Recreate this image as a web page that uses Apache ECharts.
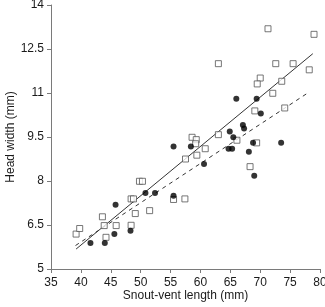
<!DOCTYPE html>
<html>
<head>
<meta charset="utf-8">
<script src="https://cdn.jsdelivr.net/npm/echarts@6/dist/echarts.min.js"></script>
<style>
  html, body { margin: 0; padding: 0; background: #fff; }
  #chart { width: 325px; height: 307px; }
</style>
</head>
<body>
<div id="chart"></div>
<script>
// snout-vent length (mm) / head width (mm)
var squareSvl = [39.2, 39.8, 43.6, 43.9, 44.2, 45.9, 48.4, 48.8, 49.1, 48.4, 49.8, 50.3, 51.5,
                 55.5, 57.4, 57.5, 58.6, 59.3, 59.2, 60.8, 59.4, 63.0, 66.1, 63.0,
                 71.3, 79.0, 72.6, 75.5, 78.2, 70.0, 69.5, 73.6, 72.1, 69.1, 74.1, 69.4, 68.3];
var squareHw  = [6.19, 6.38, 6.78, 6.48, 6.08, 6.48, 7.39, 7.39, 6.89, 6.49, 7.99, 7.99, 6.99,
                 7.37, 7.39, 8.75, 9.49, 9.41, 9.27, 9.10, 8.88, 9.58, 9.39, 12.0,
                 13.19, 13.0, 12.0, 12.0, 11.79, 11.51, 11.31, 11.40, 10.99, 10.39, 10.49, 9.30, 8.49];

var circleSvl = [41.6, 44.0, 45.6, 45.8, 48.3, 50.8, 52.4, 55.5, 55.5, 58.4, 60.6,
                 64.7, 65.3, 64.9, 65.5, 66.0, 69.4, 70.1, 67.1, 67.3, 68.8, 73.5, 68.1, 69.0];
var circleHw  = [5.89, 5.89, 6.19, 7.19, 6.30, 7.59, 7.59, 7.50, 9.18, 9.18, 8.58,
                 9.10, 9.10, 9.69, 9.49, 10.80, 10.80, 10.30, 9.91, 9.79, 9.30, 9.30, 9.00, 8.18];

// fitted lines (end points)
var solidX = [39.2, 78.8];
var solidY = [5.68, 12.34];
var dashX = [39.1, 77.8];
var dashY = [5.80, 10.98];

var xTicks = [35, 40, 45, 50, 55, 60, 65, 70, 75, 80];
var yTicks = [5, 6.5, 8, 9.5, 11, 12.5, 14];

function pairs(xs, ys) {
  return xs.map(function(x, i) { return [x, ys[i]]; });
}

var chart = echarts.init(document.getElementById('chart'));

var axisGray = '#7a7a7a';
var labelStyle = { color: '#1a1a1a', fontSize: 12, fontFamily: 'Liberation Sans, Arial, sans-serif' };

var option = {
  animation: false,
  grid: { left: 51, right: 5, top: 5, bottom: 38, outerBoundsMode: 'none', containLabel: false },
  xAxis: {
    type: 'value',
    min: xTicks[0],
    max: xTicks[xTicks.length - 1],
    interval: xTicks[1] - xTicks[0],
    name: 'Snout-vent length (mm)',
    nameLocation: 'middle',
    nameGap: 21,
    nameMoveOverlap: false,
    nameTextStyle: labelStyle,
    axisLine: { lineStyle: { color: axisGray, width: 1 } },
    axisTick: { length: 4, lineStyle: { color: axisGray } },
    axisLabel: Object.assign({ margin: 8 }, labelStyle),
    splitLine: { show: false }
  },
  yAxis: {
    type: 'value',
    min: yTicks[0],
    max: yTicks[yTicks.length - 1],
    interval: yTicks[1] - yTicks[0],
    name: 'Head width (mm)',
    nameLocation: 'middle',
    nameGap: 34,
    nameMoveOverlap: false,
    nameTextStyle: labelStyle,
    axisLine: { show: true, lineStyle: { color: axisGray, width: 1 } },
    axisTick: { show: true, length: 4, lineStyle: { color: axisGray } },
    axisLabel: Object.assign({ margin: 7 }, labelStyle),
    splitLine: { show: false }
  },
  series: [
    {
      type: 'line',
      data: pairs(solidX, solidY),
      symbol: 'none',
      lineStyle: { color: '#333', width: 1 },
      z: 1
    },
    {
      type: 'line',
      data: pairs(dashX, dashY),
      symbol: 'none',
      lineStyle: { color: '#333', width: 1, type: [4, 4] },
      z: 1
    },
    {
      type: 'scatter',
      data: pairs(squareSvl, squareHw),
      symbol: 'rect',
      symbolSize: 6,
      itemStyle: { color: '#fff', borderColor: '#555', borderWidth: 1 },
      z: 2
    },
    {
      type: 'scatter',
      data: pairs(circleSvl, circleHw),
      symbol: 'circle',
      symbolSize: 6,
      itemStyle: { color: '#000' },
      z: 3
    }
  ]
};

chart.setOption(option);
</script>
</body>
</html>
